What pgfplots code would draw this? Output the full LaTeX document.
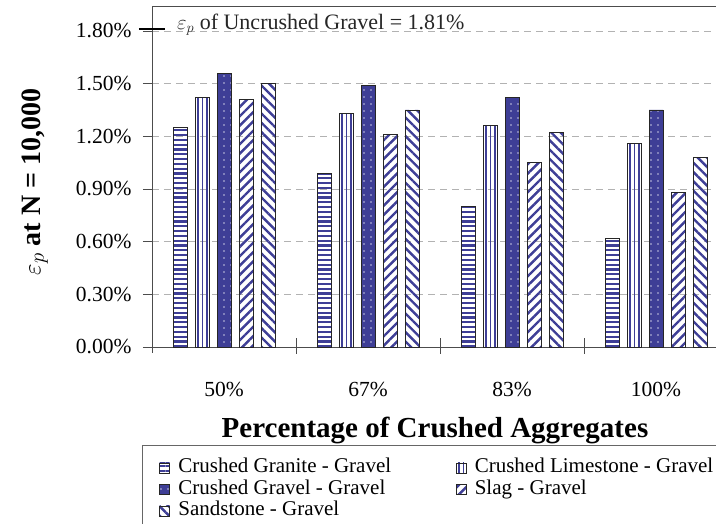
\documentclass[border=0pt]{standalone}
\usepackage{fontspec}
\setmainfont{Liberation Serif}
\usepackage{pgfplots}
\pgfplotsset{compat=1.18}
\usetikzlibrary{patterns.meta}
\definecolor{navyp}{RGB}{62,62,150}

\begin{document}
\begin{tikzpicture}
\useasboundingbox (0,0) rectangle (716pt,524pt);
\clip (0,0) rectangle (716pt,524pt);
\begin{axis}[
  at={(152pt,177pt)}, anchor=south west,
  scale only axis, width=566pt, height=341pt,
  xmin=-0.5, xmax=3.43, ymin=0, ymax=1.942,
  clip=false,
  ybar=8pt, bar width=14pt,
  xtick={0,1,2,3}, xticklabels={50\%,67\%,83\%,100\%},
  xtick style={draw=none},
  xticklabel style={font=\fontsize{21.5}{24}\selectfont, yshift=-23pt},
  ytick={0,0.3,0.6,0.9,1.2,1.5,1.8},
  yticklabel={\pgfmathprintnumber[fixed,fixed zerofill,precision=2]{\tick}\%},
  yticklabel style={font=\fontsize{21.5}{24}\selectfont, xshift=-8pt},
  /pgf/number format/assume math mode=true,
  tick align=outside, major tick length=9pt,
  ytick style={draw=black!70, line width=0.7pt},
  ymajorgrids,
  major grid style={dash pattern=on 7pt off 5pt, draw=gray!60, line width=0.8pt},
  axis line style={draw=black!70, line width=0.8pt},
  xlabel={\textbf{Percentage of Crushed Aggregates}},
  ylabel={\textbf{{\fontsize{32}{32}\selectfont$\varepsilon_{p}$} at N = 10,000}},
  every axis x label/.style={at={(axis description cs:0.5,-0.2435)}, anchor=center, font=\fontsize{29}{32}\selectfont},
  every axis y label/.style={at={(axis description cs:-0.207,0.484)}, rotate=90, anchor=center, font=\fontsize{28}{30}\selectfont},
  legend columns=2,
  legend cell align=left,
  legend style={at={(axis description cs:-0.0177,-0.287)}, anchor=north west,
    draw=black!60, line width=0.6pt, font=\fontsize{21}{22}\selectfont,
    inner xsep=17pt, inner ysep=12pt, row sep=0pt,
    nodes={inner sep=1.5pt, text height=14pt, text depth=4.5pt},
    /tikz/every odd column/.append style={column sep=7pt},
    /tikz/every even column/.append style={column sep=63pt}},
  legend image code/.code={\draw[#1, line width=0.6pt] (0pt,-5pt) rectangle (10pt,5pt);},
]
\addplot[draw=black!85, line width=0.7pt, pattern={Lines[angle=0,distance=4.8pt,line width=2.2pt]}, pattern color=navyp]
  coordinates {(0,1.25) (1,0.99) (2,0.80) (3,0.62)};
\addlegendentry{Crushed Granite - Gravel}
\addplot[draw=black!85, line width=0.7pt, pattern={Lines[angle=90,distance=4.5pt,line width=1.2pt]}, pattern color=navyp]
  coordinates {(0,1.42) (1,1.33) (2,1.26) (3,1.16)};
\addlegendentry{Crushed Limestone - Gravel}
\addplot[draw=black!85, line width=0.7pt, fill=navyp, postaction={pattern={Dots[distance=7pt,radius=0.8pt]}, pattern color=white!70!navyp}]
  coordinates {(0,1.56) (1,1.49) (2,1.42) (3,1.35)};
\addlegendentry{Crushed Gravel - Gravel}
\addplot[draw=black!85, line width=0.7pt, pattern={Lines[angle=45,distance=6.6pt,line width=2.4pt]}, pattern color=navyp]
  coordinates {(0,1.41) (1,1.21) (2,1.05) (3,0.88)};
\addlegendentry{Slag - Gravel}
\addplot[draw=black!85, line width=0.7pt, pattern={Lines[angle=-45,distance=6.6pt,line width=2.4pt]}, pattern color=navyp]
  coordinates {(0,1.50) (1,1.35) (2,1.22) (3,1.08)};
\addlegendentry{Sandstone - Gravel}
% category separators
\draw[black!70, line width=0.7pt] (axis cs:-0.5,0) -- ([yshift=-6pt]axis cs:-0.5,0);
\draw[black!70, line width=0.7pt] ([yshift=-7pt]axis cs:0.5,0) -- ([yshift=9pt]axis cs:0.5,0);
\draw[black!70, line width=0.7pt] ([yshift=-7pt]axis cs:1.5,0) -- ([yshift=9pt]axis cs:1.5,0);
\draw[black!70, line width=0.7pt] ([yshift=-7pt]axis cs:2.5,0) -- ([yshift=9pt]axis cs:2.5,0);
% uncrushed gravel reference
\draw[black, line width=2.6pt] ([xshift=-13pt]axis cs:-0.5,1.81) -- ([xshift=13pt]axis cs:-0.5,1.81);
\node[anchor=base west, inner sep=0pt, font=\fontsize{22}{24}\selectfont, text=black!85] at ([xshift=25pt]axis cs:-0.5,1.81) {$\varepsilon_{p}$ of Uncrushed Gravel = 1.81\%};
\end{axis}
\end{tikzpicture}
\end{document}
